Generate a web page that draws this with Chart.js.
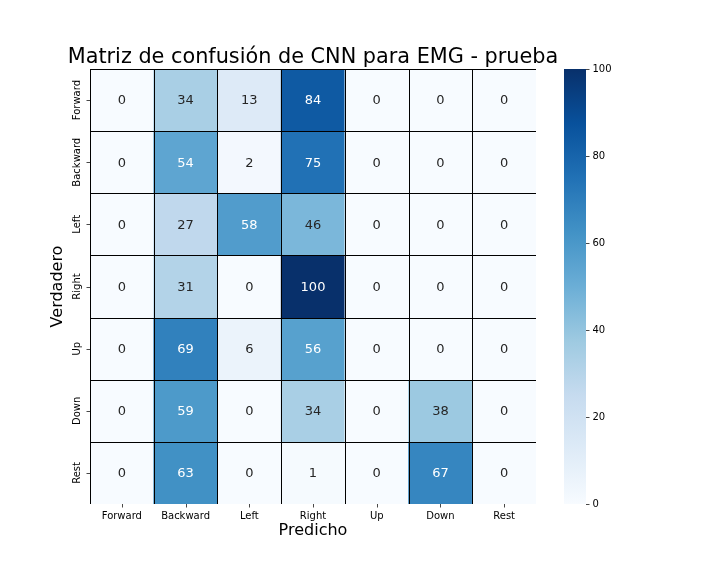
<!DOCTYPE html>
<html>
<head>
<meta charset="utf-8">
<script src="https://cdn.jsdelivr.net/npm/chart.js@4"></script>
<style>
  html, body { margin: 0; padding: 0; background: #ffffff; }
  #wrap { position: relative; width: 720px; height: 576px; }
  #wrap canvas { position: absolute; left: 0; top: 0; }
</style>
</head>
<body>
<div id="wrap">
  <canvas id="main" width="720" height="576"></canvas>
  <canvas id="cbar" width="720" height="576"></canvas>
</div>
<script>
// ---------- data ----------
const titleText = 'Matriz de confusión de CNN para EMG - prueba';
const xAxisTitle = 'Predicho';
const yAxisTitle = 'Verdadero';
const predictedLabels = ['Forward', 'Backward', 'Left', 'Right', 'Up', 'Down', 'Rest'];
const trueLabels = ['Forward', 'Backward', 'Left', 'Right', 'Up', 'Down', 'Rest'];
const rowForward  = [0, 34, 13, 84, 0, 0, 0];
const rowBackward = [0, 54, 2, 75, 0, 0, 0];
const rowLeft     = [0, 27, 58, 46, 0, 0, 0];
const rowRight    = [0, 31, 0, 100, 0, 0, 0];
const rowUp       = [0, 69, 6, 56, 0, 0, 0];
const rowDown     = [0, 59, 0, 34, 0, 38, 0];
const rowRest     = [0, 63, 0, 1, 0, 67, 0];
const colorbarTicks = [0, 20, 40, 60, 80, 100];
const vMin = 0, vMax = 100;

const matrix = [rowForward, rowBackward, rowLeft, rowRight, rowUp, rowDown, rowRest];

// ---------- Blues colormap ----------
const bluesStops = [
  [247, 251, 255], [222, 235, 247], [198, 219, 239], [158, 202, 225],
  [107, 174, 214], [66, 146, 198], [33, 113, 181], [8, 81, 156], [8, 48, 107]
];
function bluesRGB(t) {
  t = Math.max(0, Math.min(1, t));
  const s = t * 8;
  const i = Math.min(7, Math.floor(s));
  const f = s - i;
  const a = bluesStops[i], b = bluesStops[i + 1];
  return [0, 1, 2].map(k => Math.round(a[k] + (b[k] - a[k]) * f));
}
function bluesCss(v) {
  const c = bluesRGB((v - vMin) / (vMax - vMin));
  return `rgb(${c[0]},${c[1]},${c[2]})`;
}
function luminance(rgb) {
  const lin = rgb.map(c => { c /= 255; return c <= 0.03928 ? c / 12.92 : Math.pow((c + 0.055) / 1.055, 2.4); });
  return 0.2126 * lin[0] + 0.7152 * lin[1] + 0.0722 * lin[2];
}

Chart.defaults.font.family = "'DejaVu Sans', sans-serif";
Chart.defaults.color = '#000000';

// ---------- main heatmap ----------
const heatPlugin = {
  id: 'heatDecor',
  afterDatasetsDraw(chart) {
    const ctx = chart.ctx;
    const xs = chart.scales.x, ys = chart.scales.y;
    const area = chart.chartArea;
    ctx.save();
    // cell separators (left & top edge + interior)
    ctx.strokeStyle = '#000000';
    ctx.lineWidth = 1;
    ctx.beginPath();
    for (let i = 0; i < predictedLabels.length; i++) {
      const x = Math.round(xs.getPixelForValue(i - 0.5)) + 0.5;
      ctx.moveTo(x, area.top);
      ctx.lineTo(x, area.bottom);
    }
    for (let r = 0; r < trueLabels.length; r++) {
      const y = Math.round(ys.getPixelForValue(r - 0.5)) + 0.5;
      ctx.moveTo(area.left, y);
      ctx.lineTo(area.right, y);
    }
    ctx.stroke();

    // annotations
    ctx.font = "13px 'DejaVu Sans'";
    ctx.textAlign = 'center';
    ctx.textBaseline = 'middle';
    matrix.forEach((row, r) => {
      row.forEach((v, c) => {
        const rgb = bluesRGB((v - vMin) / (vMax - vMin));
        ctx.fillStyle = luminance(rgb) > 0.408 ? '#262626' : '#ffffff';
        ctx.fillText(String(v), xs.getPixelForValue(c), ys.getPixelForValue(r) + 1);
      });
    });

    // tick marks
    ctx.strokeStyle = '#333333';
    ctx.lineWidth = 0.9;
    ctx.beginPath();
    predictedLabels.forEach((_, i) => {
      const x = Math.round(xs.getPixelForValue(i)) + 0.5;
      ctx.moveTo(x, area.bottom);
      ctx.lineTo(x, area.bottom + 3.5);
    });
    trueLabels.forEach((_, r) => {
      const y = Math.round(ys.getPixelForValue(r)) + 0.5;
      ctx.moveTo(area.left - 3.5, y);
      ctx.lineTo(area.left, y);
    });
    ctx.stroke();

    // y tick labels (rotated)
    ctx.fillStyle = '#000000';
    ctx.font = "10px 'DejaVu Sans'";
    ctx.textAlign = 'center';
    ctx.textBaseline = 'middle';
    trueLabels.forEach((lab, r) => {
      ctx.save();
      ctx.translate(area.left - 12.5, ys.getPixelForValue(r));
      ctx.rotate(-Math.PI / 2);
      ctx.fillText(lab, 0, 0);
      ctx.restore();
    });

    // title centred over the heatmap (not squeezed)
    ctx.fillStyle = '#000000';
    ctx.font = "20.8px 'DejaVu Sans'";
    ctx.textAlign = 'center';
    ctx.textBaseline = 'alphabetic';
    ctx.fillText(titleText, (area.left + area.right) / 2, area.top - 6);
    ctx.restore();
  }
};

new Chart(document.getElementById('main'), {
  type: 'bar',
  data: {
    labels: predictedLabels,
    datasets: matrix.map((row, r) => ({
      label: trueLabels[r],
      data: row.map(() => [r - 0.5, r + 0.5]),
      backgroundColor: row.map(v => bluesCss(v)),
      borderWidth: 0,
      barPercentage: 1,
      categoryPercentage: 1,
      grouped: false
    }))
  },
  options: {
    responsive: false,
    animation: false,
    devicePixelRatio: 1,
    layout: { padding: { top: 69, right: 184, bottom: 0, left: 0 } },
    plugins: {
      legend: { display: false },
      tooltip: { enabled: false },
      title: { display: false }
    },
    scales: {
      x: {
        type: 'category',
        offset: true,
        grid: { display: false, drawTicks: false },
        border: { display: false },
        ticks: { color: '#000000', font: { size: 10 }, padding: 6, maxRotation: 0 },
        title: {
          display: true, text: xAxisTitle, color: '#000000',
          font: { size: 16 }, padding: { top: 0, bottom: 36 }
        },
        afterFit(scale) { scale.height = 72; }
      },
      y: {
        type: 'linear',
        min: -0.5, max: 6.5,
        reverse: true,
        grid: { display: false, drawTicks: false },
        border: { display: false },
        ticks: { display: false },
        title: {
          display: true, text: yAxisTitle, color: '#000000',
          font: { size: 16 }, padding: { top: 48, bottom: 0 }
        },
        afterFit(scale) { scale.width = 90; }
      }
    }
  },
  plugins: [heatPlugin]
});

// ---------- colorbar ----------
new Chart(document.getElementById('cbar'), {
  type: 'bar',
  data: {
    labels: ['colorbar'],
    datasets: [{
      data: [[vMin, vMax]],
      borderWidth: 0,
      barPercentage: 1,
      categoryPercentage: 1,
      backgroundColor(ctx) {
        const a = ctx.chart.chartArea;
        if (!a) return bluesCss(50);
        const g = ctx.chart.ctx.createLinearGradient(0, a.bottom, 0, a.top);
        bluesStops.forEach((c, i) => g.addColorStop(i / 8, `rgb(${c[0]},${c[1]},${c[2]})`));
        return g;
      }
    }]
  },
  options: {
    responsive: false,
    animation: false,
    devicePixelRatio: 1,
    layout: { padding: { top: 69, right: 0, bottom: 72, left: 564 } },
    plugins: { legend: { display: false }, tooltip: { enabled: false }, title: { display: false } },
    scales: {
      x: { display: false, offset: true },
      y: {
        position: 'right',
        min: vMin, max: vMax,
        afterBuildTicks(scale) { scale.ticks = colorbarTicks.map(v => ({ value: v })); },
        grid: { drawOnChartArea: false, drawTicks: true, tickLength: 3.5, color: '#333333', lineWidth: 0.9 },
        border: { display: false },
        ticks: { color: '#000000', font: { size: 10 }, padding: 3 },
        afterFit(scale) { scale.width = 134; }
      }
    }
  }
});
</script>
</body>
</html>
